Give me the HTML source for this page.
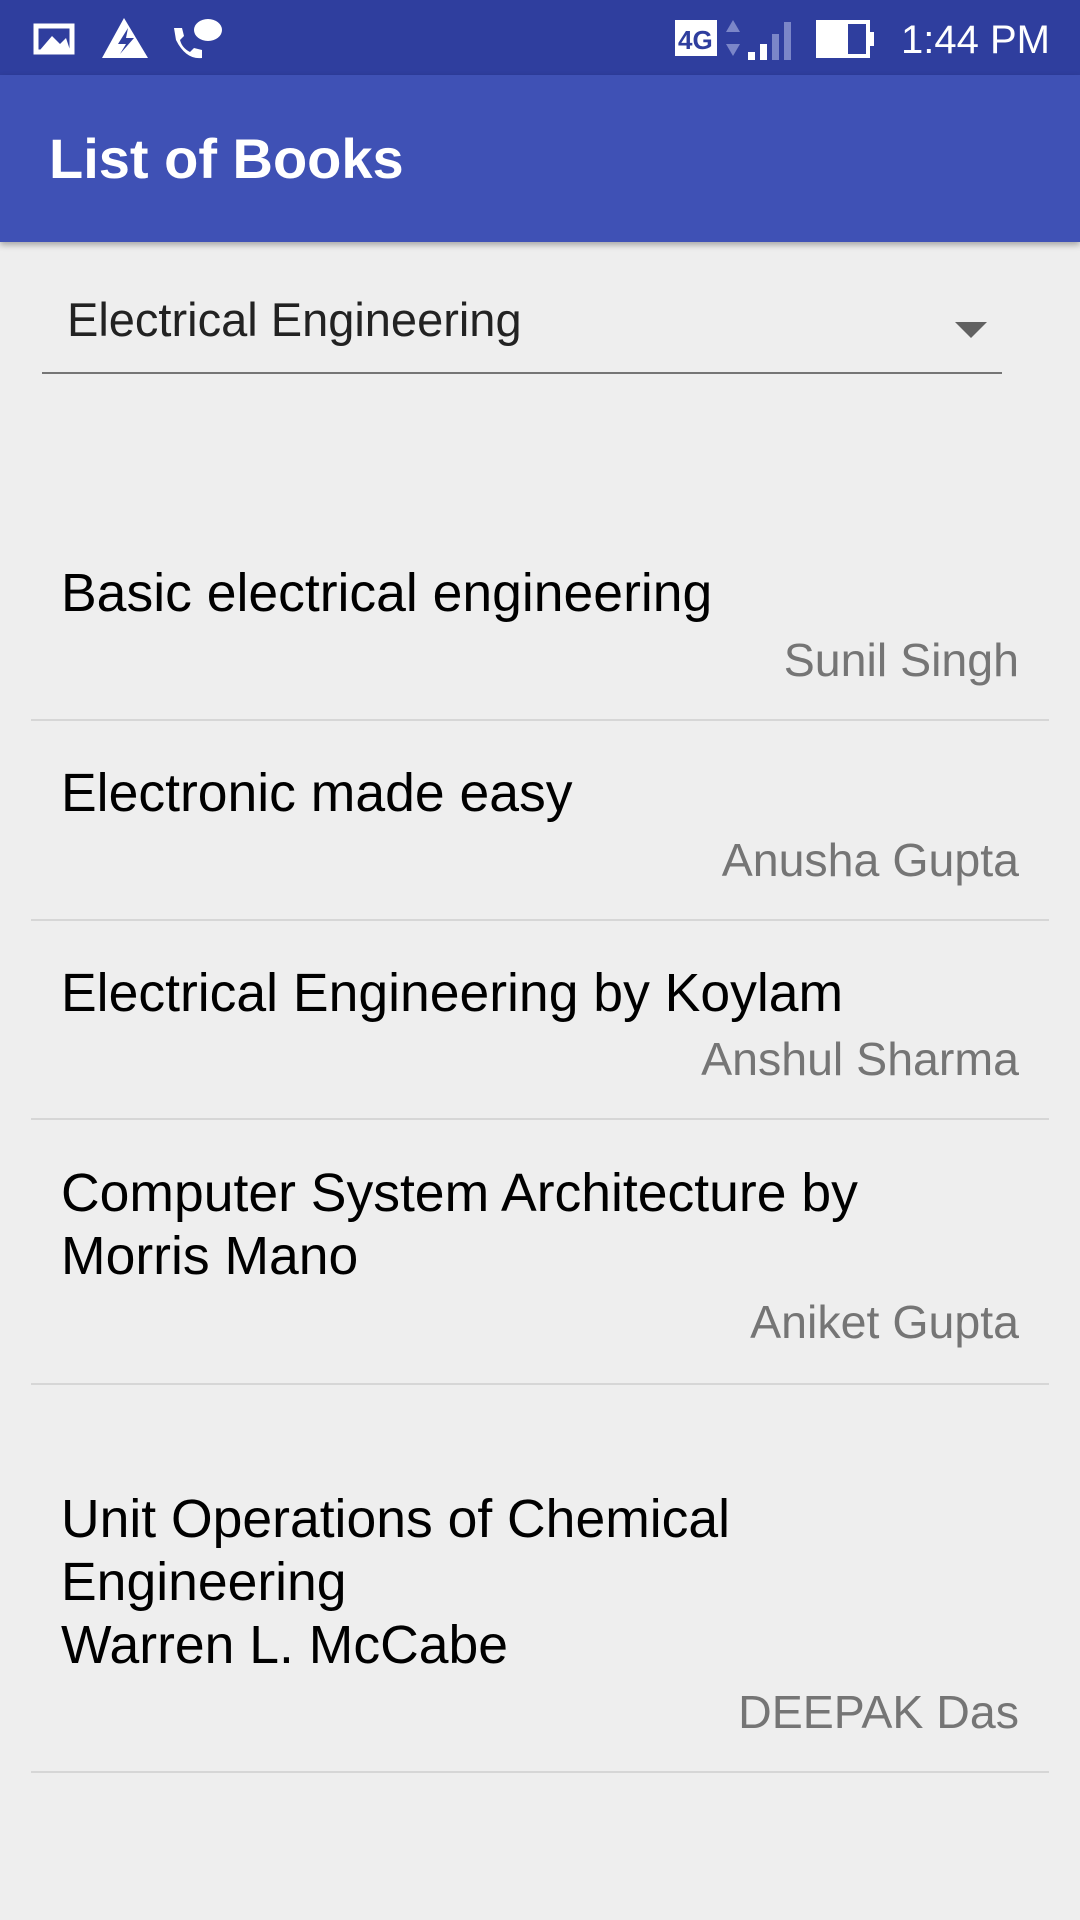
<!DOCTYPE html>
<html><head><meta charset="utf-8"><style>
body{margin:0;width:1080px;height:1920px;background:#eeeeee;font-family:"Liberation Sans",sans-serif;position:relative;overflow:hidden}
.a{position:absolute;white-space:nowrap}
.t{font-size:53.5px;line-height:53px;color:#000;left:61px}
.au{font-size:46.5px;line-height:45px;color:#757575;right:61px}
.sep{position:absolute;left:31px;width:1018px;height:2px;background:#d6d6d6}
</style></head><body>
<div class="a" style="left:0;top:0;width:1080px;height:75px;background:#2f3e9e">
  <svg width="1080" height="75" style="position:absolute;left:0;top:0">
    <rect x="36" y="26" width="36" height="26" fill="none" stroke="#fff" stroke-width="5"/>
    <polygon points="40,50 52,36 60,44 66,38 70,50" fill="#fff"/>
    <polygon points="124,18 102,58 148,58" fill="#fff"/>
    <polygon points="128,28 118,44 126,44 120,54 134,38 126,38" fill="#2f3e9e"/>
    <path d="M176,40 q10,20 26,18 l0,-8 l-8,-2 l-4,4 q-8,-4 -10,-12 l4,-4 l-2,-8 l-8,0 z" fill="#fff"/>
    <ellipse cx="208" cy="30" rx="14" ry="11" fill="#fff"/>
    <rect x="675" y="20" width="42" height="36" fill="#fff"/>
    <text x="678" y="49" font-family="Liberation Sans" font-weight="bold" font-size="26" fill="#2f3e9e">4G</text>
    <polygon points="733,20 726,32 740,32" fill="#7b86c8"/><polygon points="733,56 726,44 740,44" fill="#7b86c8"/>
    <rect x="748" y="52" width="7" height="8" fill="#fff"/><rect x="760" y="44" width="7" height="16" fill="#fff"/>
    <rect x="772" y="34" width="7" height="26" fill="#7b86c8"/><rect x="784" y="22" width="7" height="38" fill="#7b86c8"/>
    <rect x="818" y="22" width="50" height="34" fill="none" stroke="#fff" stroke-width="4"/>
    <rect x="818" y="22" width="30" height="34" fill="#fff"/><rect x="868" y="32" width="6" height="14" fill="#fff"/>
    <text x="901" y="53" font-family="Liberation Sans" font-size="40" fill="#fff">1:44 PM</text>
  </svg>
</div>
<div class="a" style="left:0;top:75px;width:1080px;height:167px;background:#3f51b5;box-shadow:0 3px 6px rgba(0,0,0,0.3)">
  <div class="a" style="left:49px;top:56px;font-size:56px;line-height:56px;color:#fff;font-weight:bold">List of Books</div>
</div>
<div class="a" style="left:42px;top:280px;width:960px;height:92px;border-bottom:2px solid #757575">
  <div class="a" style="left:25px;top:17px;font-size:47px;line-height:46px;color:#222">Electrical Engineering</div>
  <svg class="a" style="left:913px;top:42px" width="32" height="16"><polygon points="0,0 32,0 16,16" fill="#616161"/></svg>
</div>
<div class="a t" style="top:567px">Basic electrical engineering</div>
<div class="a au" style="top:638px">Sunil Singh</div>
<div class="sep" style="top:719px"></div>
<div class="a t" style="top:767px">Electronic made easy</div>
<div class="a au" style="top:838px">Anusha Gupta</div>
<div class="sep" style="top:919px"></div>
<div class="a t" style="top:967px">Electrical Engineering by Koylam</div>
<div class="a au" style="top:1037px">Anshul Sharma</div>
<div class="sep" style="top:1118px"></div>
<div class="a t" style="top:1167px;line-height:63px;margin-top:-5px">Computer System Architecture by<br>Morris Mano</div>
<div class="a au" style="top:1300px">Aniket Gupta</div>
<div class="sep" style="top:1383px"></div>
<div class="a t" style="top:1493px;line-height:63px;margin-top:-5px">Unit Operations of Chemical<br>Engineering<br>Warren L. McCabe</div>
<div class="a au" style="top:1690px">DEEPAK Das</div>
<div class="sep" style="top:1771px"></div>
</body></html>
